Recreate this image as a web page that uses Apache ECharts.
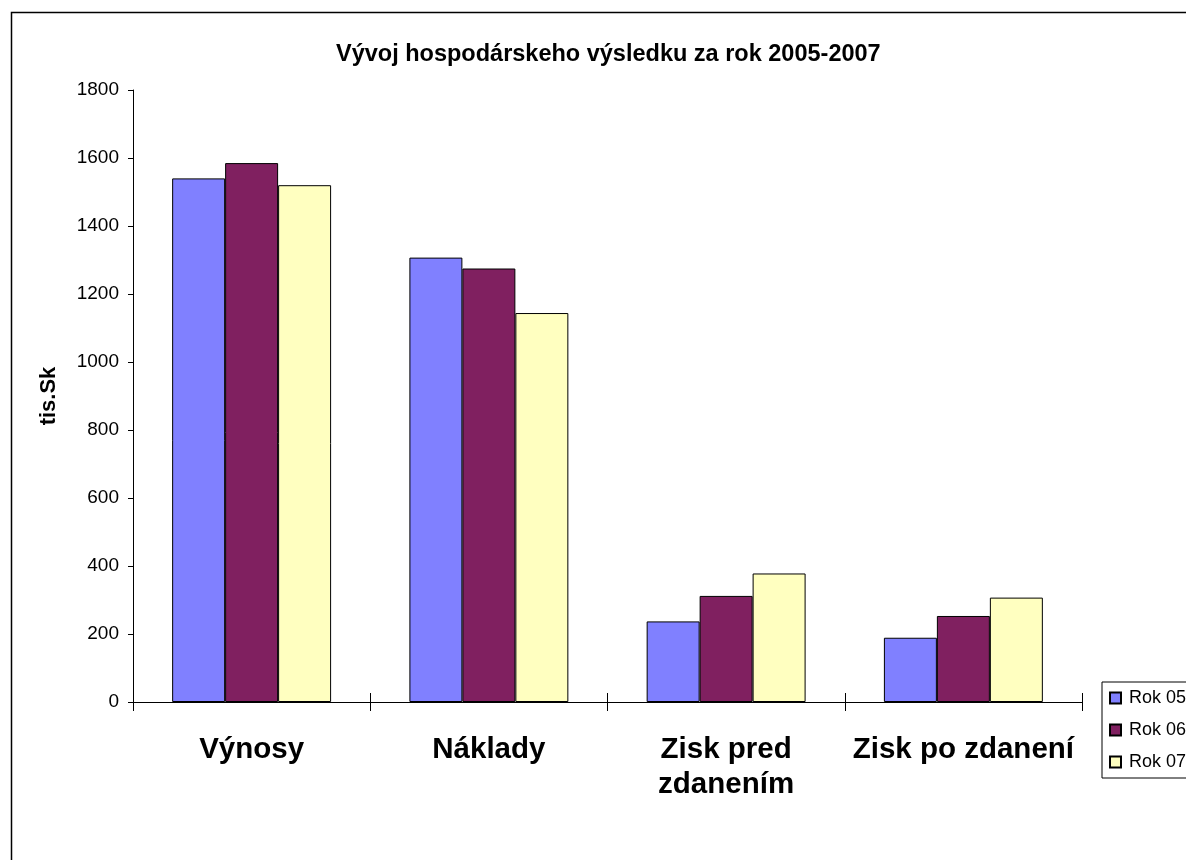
<!DOCTYPE html>
<html>
	<head>
		<meta charset="UTF-8">
		<title>Vývoj hospodárskeho výsledku</title>
		<script src="https://cdn.jsdelivr.net/npm/echarts@6/dist/echarts.min.js" type="text/javascript" charset="utf-8"></script>
		<style>
			html, body { margin: 0; padding: 0; background: #fff; }
		</style>
	</head>
	<body>
		<div id="main" style="width: 1186px;height: 860px;"></div>
	</body>
	<script type="text/javascript">
var myChart = echarts.init(document.getElementById('main'));

var categories = ['Výnosy', 'Náklady', 'Zisk pred\nzdanením', 'Zisk po zdanení'];
var seriesNames = ['Rok 05', 'Rok 06', 'Rok 07'];
var rok05 = [1540, 1307, 237, 189];
var rok06 = [1585, 1275, 312, 253];
var rok07 = [1520, 1144, 378, 307];
var yTicks = [0, 200, 400, 600, 800, 1000, 1200, 1400, 1600, 1800];

var fontName = 'Liberation Sans, Arial, sans-serif';

function barSeries(name, values, color) {
    return {
        name: name,
        type: 'bar',
        barGap: '0%',
        barCategoryGap: '33%',
        itemStyle: {
            color: color,
            borderColor: '#000',
            borderWidth: 1
        },
        data: values
    };
}

option = {
    animation: false,
    backgroundColor: '#fff',
    textStyle: { fontFamily: fontName },
    title: {
        text: 'Vývoj hospodárskeho výsledku za rok 2005-2007',
        left: 331,
        top: 38,
        textStyle: { fontSize: 23.5, fontWeight: 'bold', color: '#000', fontFamily: fontName }
    },
    graphic: [{
        type: 'rect',
        left: 9,
        top: 10,
        shape: { width: 1300, height: 1000 },
        style: { fill: 'none', stroke: '#000', lineWidth: 1.5 },
        silent: true
    }],
    legend: {
        orient: 'vertical',
        left: 1102,
        top: 682,
        data: seriesNames,
        selectedMode: false,
        icon: 'rect',
        itemWidth: 11,
        itemHeight: 11,
        itemGap: 14,
        padding: [7, 30, 7, 7],
        borderColor: '#000',
        borderWidth: 1,
        textStyle: { fontSize: 18, color: '#000', fontFamily: fontName, padding: [0, 0, 0, 3] }
    },
    grid: {
        left: 133,
        top: 90,
        width: 949,
        height: 612,
        containLabel: false
    },
    xAxis: [{
        type: 'category',
        data: categories,
        axisLine: { lineStyle: { color: '#000', width: 1 } },
        axisTick: { show: true, alignWithLabel: false, length: 9, lineStyle: { color: '#000' } },
        axisLabel: {
            interval: 0,
            margin: 30,
            fontSize: 29.5,
            fontWeight: 'bold',
            lineHeight: 35,
            color: '#000',
            fontFamily: fontName
        }
    }, {
        type: 'category',
        data: categories,
        position: 'bottom',
        axisLine: { show: false },
        axisTick: { show: true, inside: true, length: 9, lineStyle: { color: '#000' } },
        axisLabel: { show: false }
    }],
    yAxis: {
        type: 'value',
        min: yTicks[0],
        max: yTicks[yTicks.length - 1],
        interval: 200,
        name: 'tis.Sk',
        nameLocation: 'middle',
        nameGap: 73,
        nameRotate: 90,
        nameTextStyle: { fontSize: 22, fontWeight: 'bold', color: '#000', fontFamily: fontName },
        axisLine: { show: true, lineStyle: { color: '#000', width: 1 } },
        axisTick: { show: true, length: 5, lineStyle: { color: '#000' } },
        splitLine: { show: false },
        axisLabel: {
            fontSize: 19,
            color: '#000',
            margin: 14,
            fontFamily: fontName,
            formatter: function (v) { return String(v); }
        }
    },
    series: [
        barSeries(seriesNames[0], rok05, '#8080ff'),
        barSeries(seriesNames[1], rok06, '#802060'),
        barSeries(seriesNames[2], rok07, '#ffffc0')
    ]
};
myChart.setOption(option);
	</script>
</html>
